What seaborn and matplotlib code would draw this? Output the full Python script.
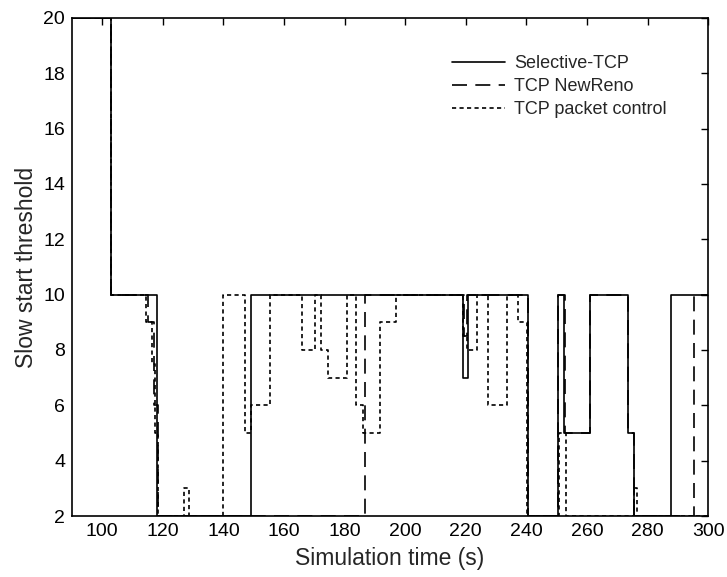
import numpy as np
import pandas as pd
import matplotlib
matplotlib.use("Agg")
import matplotlib.pyplot as plt
import seaborn as sns

# ---- data (step functions) ----
sel_x = [90, 103, 118.0, 149.0, 219.0, 220.6, 240.7, 250.5, 252.5, 261.0, 273.5, 275.5, 287.8, 300]
sel_y = [20, 10, 2, 10, 7, 10, 2, 10, 5, 10, 5, 2, 10, 10]

reno_x = [90, 103, 115.0, 117.0, 118.3, 186.8, 219.3, 220.3, 240.5, 250.6, 252.6, 261.1, 273.6, 275.6, 295.2, 300]
reno_y = [20, 10, 9, 6, 2, 10, 8.5, 10, 2, 10, 5, 10, 5, 2, 10, 10]

pc_x = [90, 103, 114.5, 116.5, 117.5, 118.3, 127.0, 128.5, 139.8, 147.0, 149.0, 155.4,
        165.8, 170.2, 172.3, 174.6, 180.8, 183.7, 186.0, 191.7, 197.0, 219.2, 220.4,
        223.8, 227.5, 233.6, 237.4, 240.3, 250.8, 253.0, 275.6, 276.6, 300]
pc_y = [20, 10, 9, 7.5, 5, 2, 3, 2, 10, 5, 6, 10,
        8, 10, 8, 7, 10, 6, 5, 9, 10, 8.5, 8,
        10, 6, 10, 9, 2, 5, 2, 3, 2, 2]

labels = ["Selective-TCP", "TCP NewReno", "TCP packet control"]
x_ticks = list(range(100, 301, 20))
y_ticks = list(range(2, 21, 2))

sns.set_style("white")
plt.rcParams['font.family'] = ['Liberation Sans', 'DejaVu Sans']

fig = plt.figure(figsize=(7.27, 5.77), dpi=100)
ax = fig.add_axes([0.099, 0.1057, 0.875, 0.8633])

styles = [dict(linestyle='-'), dict(dashes=(9, 5)), dict(dashes=(2.5, 2))]
for (xs, ys), lab, st in zip([(sel_x, sel_y), (reno_x, reno_y), (pc_x, pc_y)], labels, styles):
    df = pd.DataFrame({"t": xs, "v": ys})
    sns.lineplot(data=df, x="t", y="v", ax=ax, color="black", linewidth=1.2,
                 drawstyle="steps-post", estimator=None, sort=False, label=lab, **st)

ax.set_xlim(90, 300)
ax.set_ylim(2, 20)
ax.set_xticks(x_ticks)
ax.set_yticks(y_ticks)
ax.tick_params(direction='in', length=5, width=1, top=True, right=True,
               labelsize=14, colors='black', pad=5)
for s in ax.spines.values():
    s.set_visible(True)
    s.set_color('black')
    s.set_linewidth(1.2)
ax.set_xlabel("Simulation time (s)", fontsize=16.5, labelpad=5)
ax.set_ylabel("Slow start threshold", fontsize=16.5, labelpad=4)

leg = ax.legend(loc='upper left', bbox_to_anchor=(0.597, 0.925), frameon=False,
                fontsize=13, handlelength=2.95, handletextpad=0.5,
                borderaxespad=0, borderpad=0, labelspacing=0.33)

fig.savefig("out.png", dpi=100)
